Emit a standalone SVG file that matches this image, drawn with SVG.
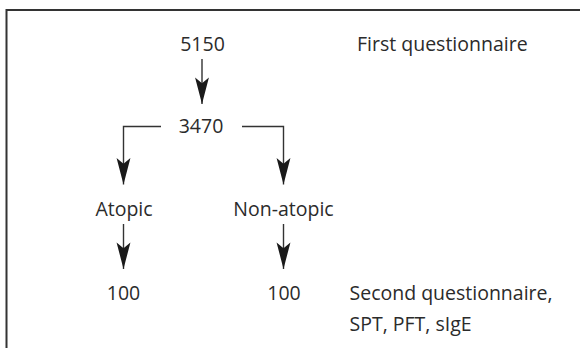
<svg xmlns="http://www.w3.org/2000/svg" width="580" height="348" viewBox="0 0 580 348">
  <style>
    text { font-family: "Open Sans", "Liberation Sans", sans-serif; font-size: 19.5px; fill: #2b2b2b; }
    .c { text-anchor: middle; }
    .conn { fill: none; stroke: #333; stroke-width: 1.4; }
    .frame { fill: none; stroke: #333; stroke-width: 2; }
  </style>
  <defs>
    <marker id="arr" markerUnits="userSpaceOnUse" markerWidth="30" markerHeight="20" viewBox="-24 -8 26 16" refX="0" refY="0" orient="auto">
      <path d="M0,0 L-23,-6 L-18,0 L-23,6 Z" fill="#1a1a1a"/>
    </marker>
  </defs>
  <rect class="frame" x="6.5" y="10" width="580" height="350"/>
  <g id="connectors">
    <path class="conn" d="M202,59 V104" marker-end="url(#arr)"/>
    <path class="conn" d="M161,126.5 H123.5 V184.5" marker-end="url(#arr)"/>
    <path class="conn" d="M242,126.5 H283.5 V184.5" marker-end="url(#arr)"/>
    <path class="conn" d="M123.5,224 V269" marker-end="url(#arr)"/>
    <path class="conn" d="M283.5,224 V269" marker-end="url(#arr)"/>
  </g>
  <g id="n5150"><text class="c" x="202.5" y="51">5150</text></g>
  <g id="first"><text x="357" y="51">First questionnaire</text></g>
  <g id="n3470"><text class="c" x="201" y="133">3470</text></g>
  <g id="atopic"><text class="c" x="124" y="216">Atopic</text></g>
  <g id="nonatopic"><text class="c" x="283.5" y="216">Non-atopic</text></g>
  <g id="a100"><text class="c" x="123.5" y="300">100</text></g>
  <g id="b100"><text class="c" x="284" y="300">100</text></g>
  <g id="second">
    <text x="349.5" y="300">Second questionnaire,</text>
    <text x="349.5" y="331">SPT, PFT, sIgE</text>
  </g>
</svg>
